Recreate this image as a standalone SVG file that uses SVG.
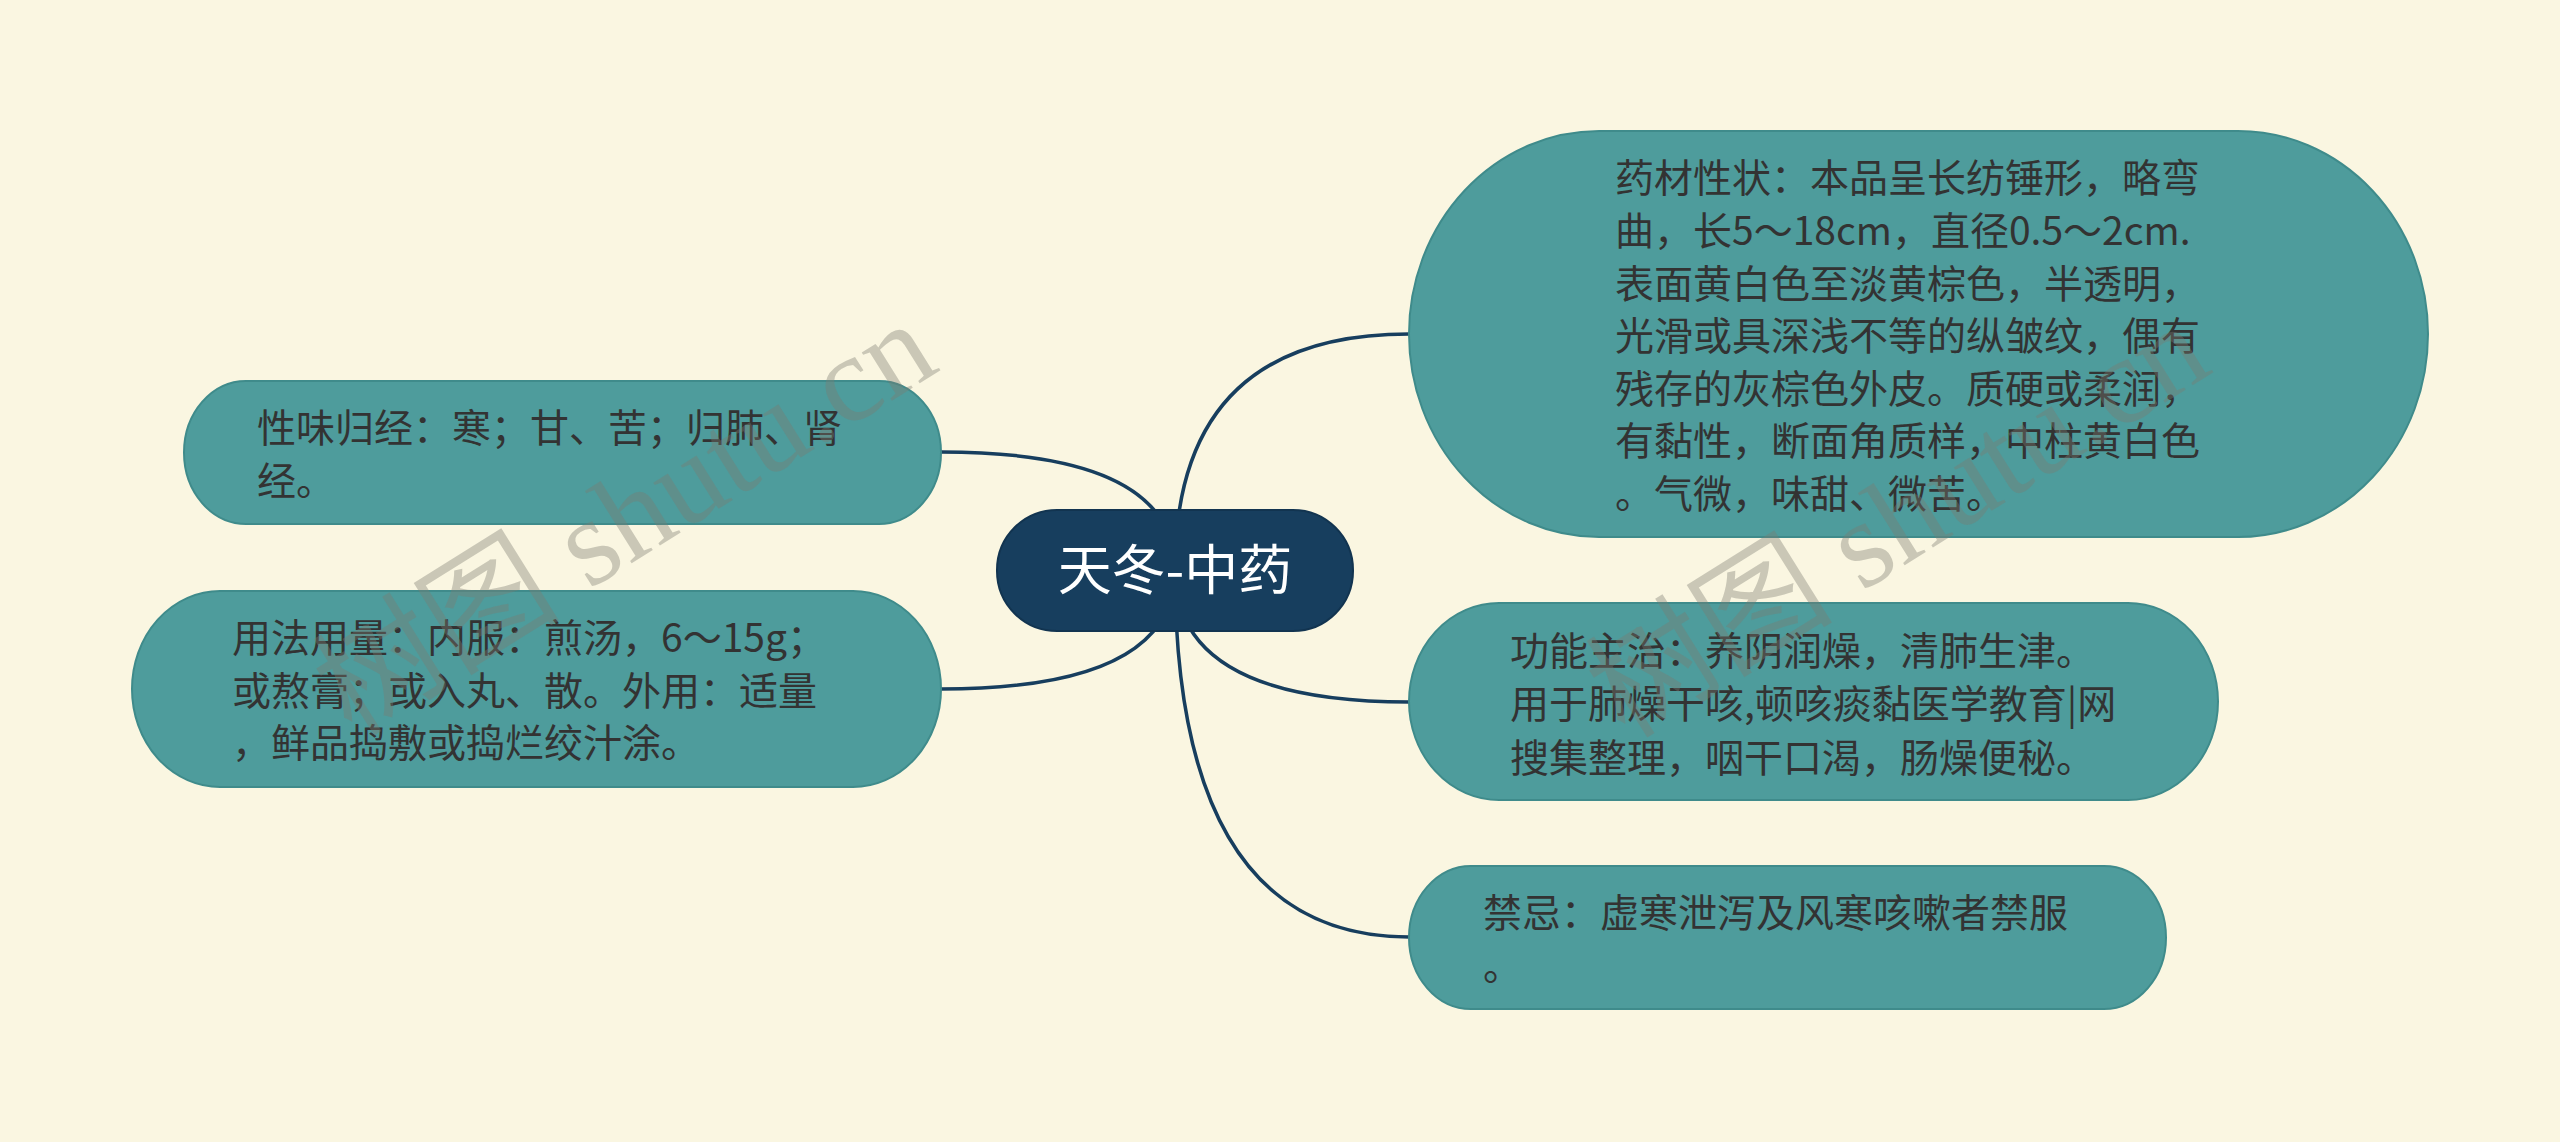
<svg xmlns="http://www.w3.org/2000/svg" width="2560" height="1142" viewBox="0 0 2560 1142">
<style>
.bg{fill:#faf6e1}
.node{fill:#4e9c9c;stroke:#3f8b8b;stroke-width:2}
.root{fill:#173e5e;stroke:#123450;stroke-width:2}
.edge{fill:none;stroke:#173e5e;stroke-width:3.5;stroke-linecap:round}
.t{font-family:"Noto Sans CJK SC","Noto Sans",sans-serif;font-size:39px;fill:#333333}
.rt{font-family:"Noto Sans CJK SC","Noto Sans",sans-serif;font-size:54px;fill:#ffffff;text-anchor:middle}
.wm{font-family:"Liberation Serif","Noto Sans CJK SC",serif;font-size:124px;fill:#7c7c70;fill-opacity:0.38}
</style>
<rect class="bg" x="0" y="0" width="2560" height="1142"/>
<g id="connectors">
<path class="edge" d="M1175 570 Q1175 334 1409 334"/>
<path class="edge" d="M1175 570 Q1175 452 941 452"/>
<path class="edge" d="M1175 570 Q1175 689 941 689"/>
<path class="edge" d="M1175 570 Q1175 702 1409 702"/>
<path class="edge" d="M1175 570 Q1175 937 1409 937"/>
</g>
<g id="node-root">
<rect class="root" x="997" y="510" width="356" height="121" rx="60" ry="60"/>
<text class="rt" x="1175" y="590">天冬-中药</text>
</g>
<g id="node-xingzhuang">
<rect class="node" x="1409" y="131" width="1019" height="406" rx="190" ry="203"/>
<text class="t">
<tspan x="1615" y="192">药材性状：本品呈长纺锤形，略弯</tspan>
<tspan x="1615" y="245">曲，长5～18cm，直径0.5～2cm.</tspan>
<tspan x="1615" y="298">表面黄白色至淡黄棕色，半透明，</tspan>
<tspan x="1615" y="350">光滑或具深浅不等的纵皱纹，偶有</tspan>
<tspan x="1615" y="403">残存的灰棕色外皮。质硬或柔润，</tspan>
<tspan x="1615" y="455">有黏性，断面角质样，中柱黄白色</tspan>
<tspan x="1615" y="508">。气微，味甜、微苦。</tspan>
</text>
</g>
<g id="node-xingwei">
<rect class="node" x="184" y="381" width="757" height="143" rx="62" ry="71.5"/>
<text class="t">
<tspan x="257" y="442">性味归经：寒；甘、苦；归肺、肾</tspan>
<tspan x="257" y="495">经。</tspan>
</text>
</g>
<g id="node-yongfa">
<rect class="node" x="132" y="591" width="809" height="196" rx="88" ry="98"/>
<text class="t">
<tspan x="232" y="652">用法用量：内服：煎汤，6～15g；</tspan>
<tspan x="232" y="705">或熬膏；或入丸、散。外用：适量</tspan>
<tspan x="232" y="757">，鲜品捣敷或捣烂绞汁涂。</tspan>
</text>
</g>
<g id="node-gongneng">
<rect class="node" x="1409" y="603" width="809" height="197" rx="90" ry="98.5"/>
<text class="t">
<tspan x="1510" y="665">功能主治：养阴润燥，清肺生津。</tspan>
<tspan x="1510" y="718">用于肺燥干咳,顿咳痰黏医学教育|网</tspan>
<tspan x="1510" y="772">搜集整理，咽干口渴，肠燥便秘。</tspan>
</text>
</g>
<g id="node-jinji">
<rect class="node" x="1409" y="866" width="757" height="143" rx="62" ry="71.5"/>
<text class="t">
<tspan x="1483" y="927">禁忌：虚寒泄泻及风寒咳嗽者禁服</tspan>
<tspan x="1483" y="980">。</tspan>
</text>
</g>
<g id="watermarks">
<text class="wm" x="352" y="738" transform="rotate(-32 352 738)">树图 shutu.cn</text>
<text class="wm" x="1625" y="740" transform="rotate(-32 1625 740)">树图 shutu.cn</text>
</g>
</svg>
